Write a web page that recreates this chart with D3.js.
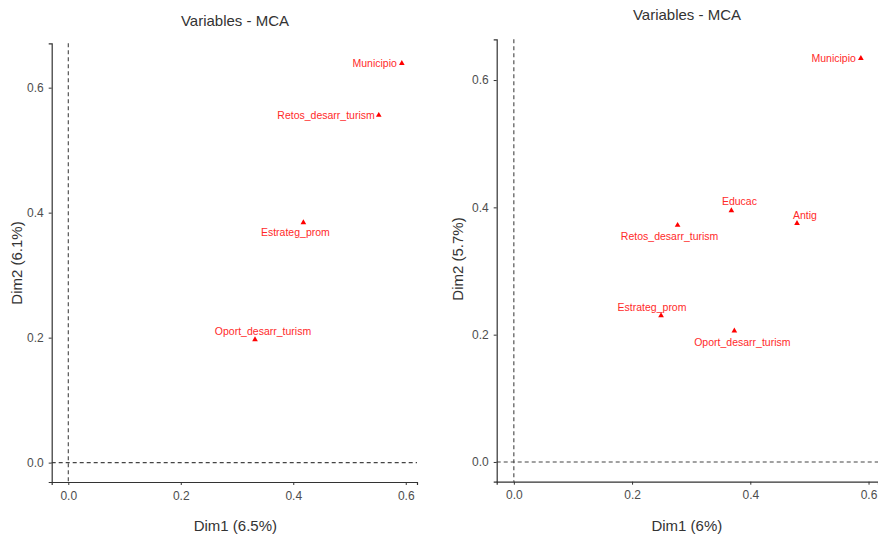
<!DOCTYPE html>
<html>
<head>
<meta charset="utf-8">
<script src="https://d3js.org/d3.v7.min.js"></script>
<style>
  body { margin: 0; background: #fff; }
  svg text { font-family: "Liberation Sans", Arial, sans-serif; }
  .tick text { fill: #4d4d4d; font-size: 12px; }
  .axis path, .axis line { stroke: #333; }
  .title { fill: #333; font-size: 15px; }
  .axtitle { fill: #333; font-size: 15px; }
  .lbl { fill: #ff2a2a; font-size: 10.5px; }
  .zero { stroke: #444; stroke-dasharray: 4,3; stroke-width: 1.1; }
</style>
</head>
<body>
<svg id="chart" width="878" height="537"></svg>
<script>
// left plot
var leftNames = ["Municipio", "Retos_desarr_turism", "Estrateg_prom", "Oport_desarr_turism"];
var leftDim1  = [0.593, 0.552, 0.418, 0.332];
var leftDim2  = [0.639, 0.556, 0.384, 0.197];
var leftXLabel = "Dim1 (6.5%)";
var leftYLabel = "Dim2 (6.1%)";

// right plot
var rightNames = ["Municipio", "Educac", "Antig", "Retos_desarr_turism", "Estrateg_prom", "Oport_desarr_turism"];
var rightDim1  = [0.587, 0.368, 0.479, 0.277, 0.249, 0.373];
var rightDim2  = [0.634, 0.395, 0.375, 0.372, 0.230, 0.206];
var rightXLabel = "Dim1 (6%)";
var rightYLabel = "Dim2 (5.7%)";

var tickVals = [0.0, 0.2, 0.4, 0.6];
var plotTitle = "Variables - MCA";

// repel-ish label nudges (layout only)
var leftNudge  = [["end", -5, 0], ["end", -4, 0], ["middle", -8, 10], ["middle", 8, -8]];
var rightNudge = [["end", -5, 0], ["middle", 8, -9], ["middle", 8, -8], ["middle", -8, 11], ["middle", -9, -8], ["middle", 8, 11]];

var svg = d3.select("#chart");

function panel(p) {
  var x = d3.scaleLinear().domain(p.xd).range(p.xr);
  var y = d3.scaleLinear().domain(p.yd).range(p.yr);
  var g = svg.append("g");

  // zero reference lines
  g.append("line").attr("class", "zero")
    .attr("x1", x(0)).attr("x2", x(0)).attr("y1", p.yr[1]).attr("y2", p.yr[0]);
  g.append("line").attr("class", "zero")
    .attr("x1", p.xr[0]).attr("x2", p.xr[1]).attr("y1", y(0)).attr("y2", y(0));

  g.append("g").attr("class", "axis")
    .attr("transform", "translate(0," + p.yr[0] + ")")
    .call(d3.axisBottom(x).tickValues(tickVals).tickFormat(d3.format(".1f")).tickSizeOuter(0).tickSize(3).tickPadding(6));
  g.append("g").attr("class", "axis")
    .attr("transform", "translate(" + p.xr[0] + ",0)")
    .call(d3.axisLeft(y).tickValues(tickVals).tickFormat(d3.format(".1f")).tickSizeOuter(0).tickSize(3).tickPadding(5));
  g.selectAll(".axis path").attr("stroke-width", 1.2);

  var pts = p.names.map(function(n, i) { return {name: n, d1: p.d1[i], d2: p.d2[i], nudge: p.nudge[i]}; });
  var tri = d3.symbol().type(d3.symbolTriangle).size(14);

  g.selectAll("path.pt").data(pts).enter().append("path")
    .attr("class", "pt")
    .attr("d", tri)
    .attr("fill", "#ff0000")
    .attr("transform", function(d) { return "translate(" + x(d.d1) + "," + y(d.d2) + ")"; });

  g.selectAll("text.lbl").data(pts).enter().append("text")
    .attr("class", "lbl")
    .attr("x", function(d) { return x(d.d1) + d.nudge[1]; })
    .attr("y", function(d) { return y(d.d2) + d.nudge[2]; })
    .attr("dy", "0.35em")
    .attr("text-anchor", function(d) { return d.nudge[0]; })
    .text(function(d) { return d.name; });

  svg.append("text").attr("class", "title")
    .attr("x", p.titleX).attr("y", p.titleY).attr("text-anchor", "middle").text(plotTitle);
  svg.append("text").attr("class", "axtitle")
    .attr("x", (p.xr[0] + p.xr[1]) / 2 + p.xtOff).attr("y", 531).attr("text-anchor", "middle").text(p.xl);
  svg.append("text").attr("class", "axtitle")
    .attr("transform", "translate(" + p.ytX + "," + p.ytY + ") rotate(-90)")
    .attr("text-anchor", "middle").attr("dy", "0.35em").text(p.yl);
}

panel({
  names: leftNames, d1: leftDim1, d2: leftDim2, nudge: leftNudge,
  xd: [-0.0295, 0.62], xr: [51.7, 417], yd: [-0.031, 0.671], yr: [482, 43.3],
  xl: leftXLabel, yl: leftYLabel, titleX: 235, titleY: 26, xtOff: 1, ytX: 17, ytY: 263
});
panel({
  names: rightNames, d1: rightDim1, d2: rightDim2, nudge: rightNudge,
  xd: [-0.029, 0.616], xr: [496.7, 878], yd: [-0.031, 0.664], yr: [481.7, 39.3],
  xl: rightXLabel, yl: rightYLabel, titleX: 687, titleY: 20, xtOff: -0.5, ytX: 458, ytY: 259
});
</script>
</body>
</html>
